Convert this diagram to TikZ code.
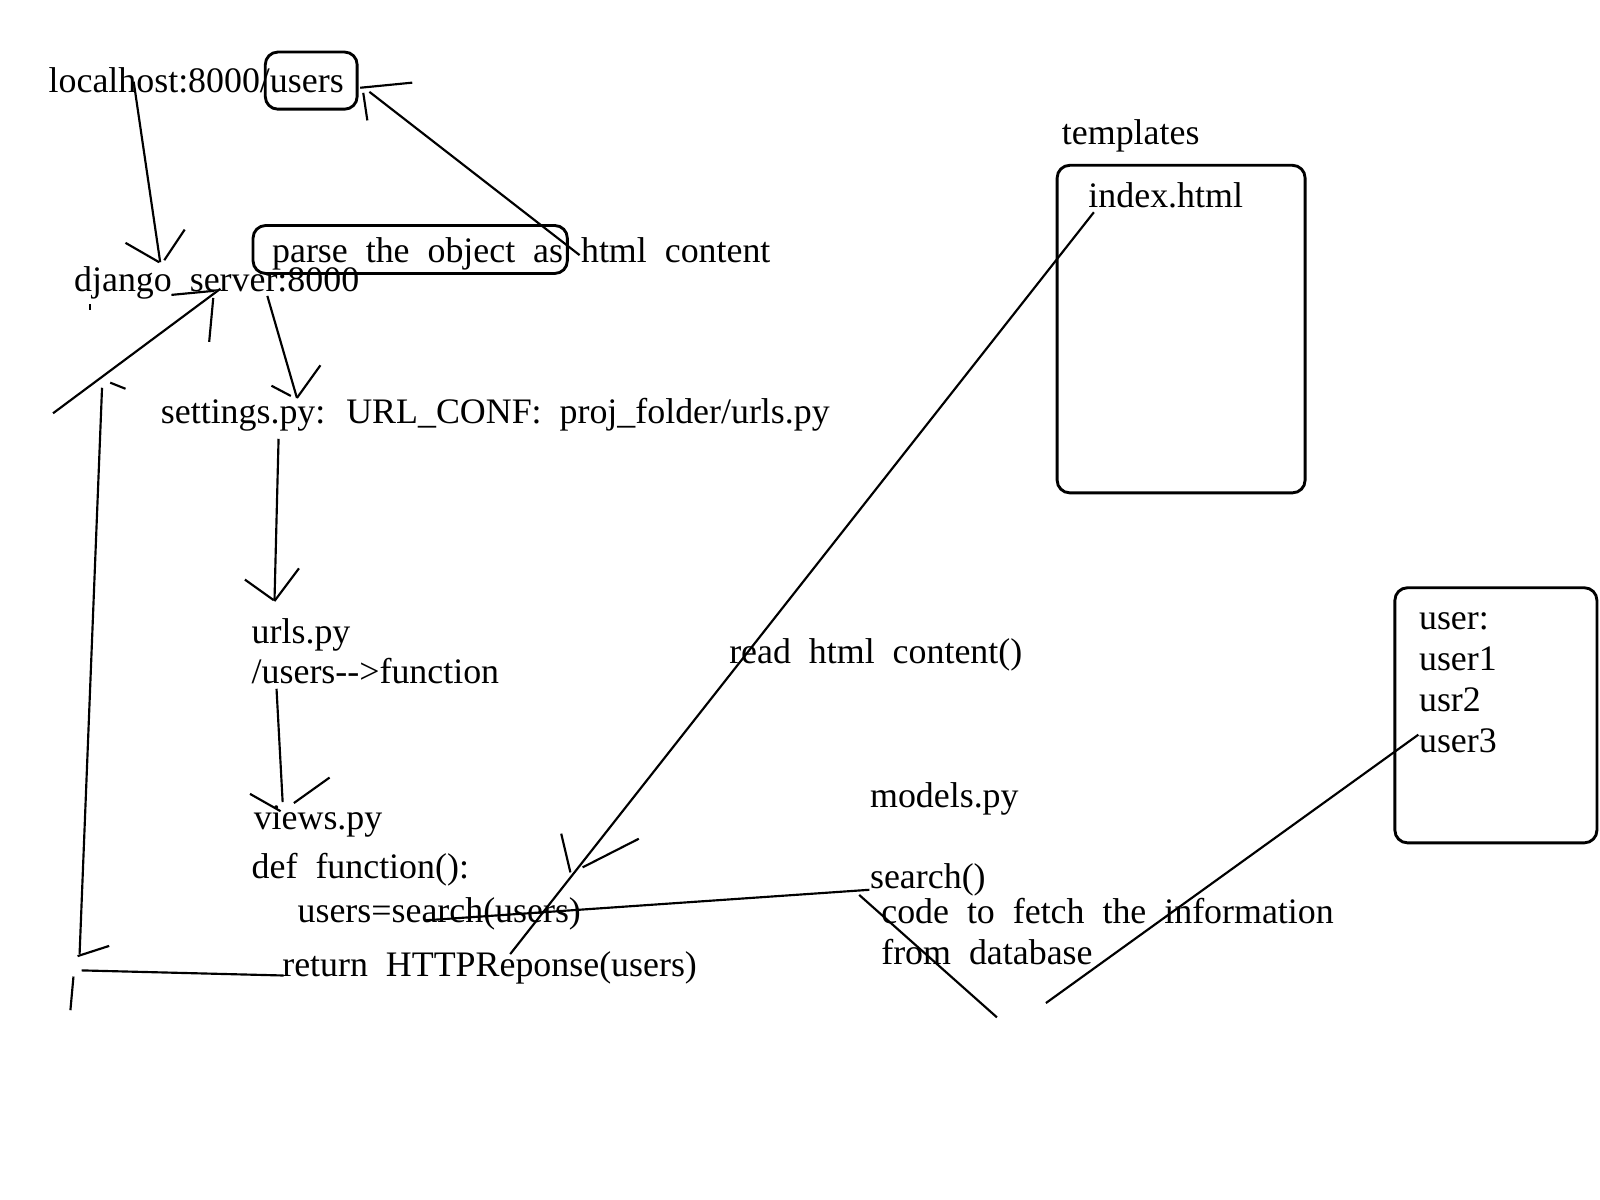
\documentclass[tikz,border=0pt]{standalone}
\usepackage{fontspec}
\setmainfont{Liberation Serif}[WordSpace=2]
\begin{document}
\begin{tikzpicture}[x=0.01cm,y=-0.01cm,
  txt/.style={anchor=base west,inner sep=0pt,font=\fontsize{10}{12}\selectfont},
  ln/.style={line width=0.6pt},
  bx/.style={draw,rounded corners=3.5pt,line width=0.8pt}]
\useasboundingbox[fill=white] (0,0) rectangle (1568,1176);

% texts
\node[txt] (lh) at (47,91) {localhost:8000/users};
\node[txt] (dj) at (72,286) {django server:8000};
\node[txt] (parse) at (266,257) {parse the object as html content};
\node[txt] (set) at (157,415) {settings.py: URL\_CONF: proj\_folder/urls.py};
\node[txt] (urls) at (246,631) {urls.py};
\node[txt] (urls2) at (246,670) {/users-{}-{}>function};
\node[txt] (views) at (248,813) {views.py};
\node[txt] (def) at (246,861) {def function():};
\node[txt] (usr) at (291,904) {users=search(users)};
\node[txt] (ret) at (276,957) {return HTTPReponse(users)};
\node[txt] (read) at (714,650) {read html content()};
\node[txt] (models) at (852,791) {models.py};
\node[txt] (search) at (852,871) {search()};
\node[txt] (code) at (863,905) {code to fetch the information};
\node[txt] (from) at (863,945) {from database};
\node[txt] (tmpl) at (1040,142) {templates};
\node[txt] (idx) at (1066,203) {index.html};
\node[txt] (u0) at (1390,617) {user:};
\node[txt] (u1) at (1390,657) {user1};
\node[txt] (u2) at (1390,697) {usr2};
\node[txt] (u3) at (1390,737) {user3};

% boxes
\draw[bx] (260,51) rectangle (350,107);
\draw[bx] (248,221) rectangle (556,268);
\draw[bx] (1036,162) rectangle (1279,483);
\draw[bx] (1367,576) rectangle (1565,826);

% localhost -> django
\draw[ln] (131,80) -- (157,257);
\draw[ln] (123,238) -- (156,257);
\draw[ln] (161,255) -- (181,225);

% parse -> users box
\draw[ln] (568,250) -- (362,90);
\draw[ln] (353,86) -- (404,81);
\draw[ln] (356,91) -- (360,118);

% django -> settings
\draw[ln] (262,290) -- (291,390);
\draw[ln] (266,378) -- (285,388);
\draw[ln] (291,390) -- (314,358);
\draw[ln] (88,298) -- (88,304);

% settings -> urls
\draw[ln] (273,430) -- (269,589);
\draw[ln] (240,568) -- (268,588);
\draw[ln] (269,589) -- (293,557);

% urls -> views
\draw[ln] (271,675) -- (277,786);
\draw[ln] (245,778) -- (275,795);
\draw[ln] (288,787) -- (323,762);

% return -> django_server (loop)
\draw[ln] (278,956) -- (80,951);
\draw[ln] (72,957) -- (69,990);
\draw[ln] (78,935) -- (100,380);
\draw[ln] (76,937) -- (107,927);
\draw[ln] (108,375) -- (123,381);
\draw[ln] (52,405) -- (216,283);
\draw[ln] (168,289) -- (210,285);
\draw[ln] (205,335) -- (209,292);

% users=search -> search()
\draw[ln] (416,902) -- (852,872);

% index.html -> return
\draw[ln] (1072,208) -- (500,935);
\draw[ln] (550,817) -- (559,855);
\draw[ln] (571,850) -- (626,822);

% models crossing lines
\draw[ln] (842,877) -- (977,997);
\draw[ln] (1025,983) -- (1390,720);
\end{tikzpicture}
\end{document}
